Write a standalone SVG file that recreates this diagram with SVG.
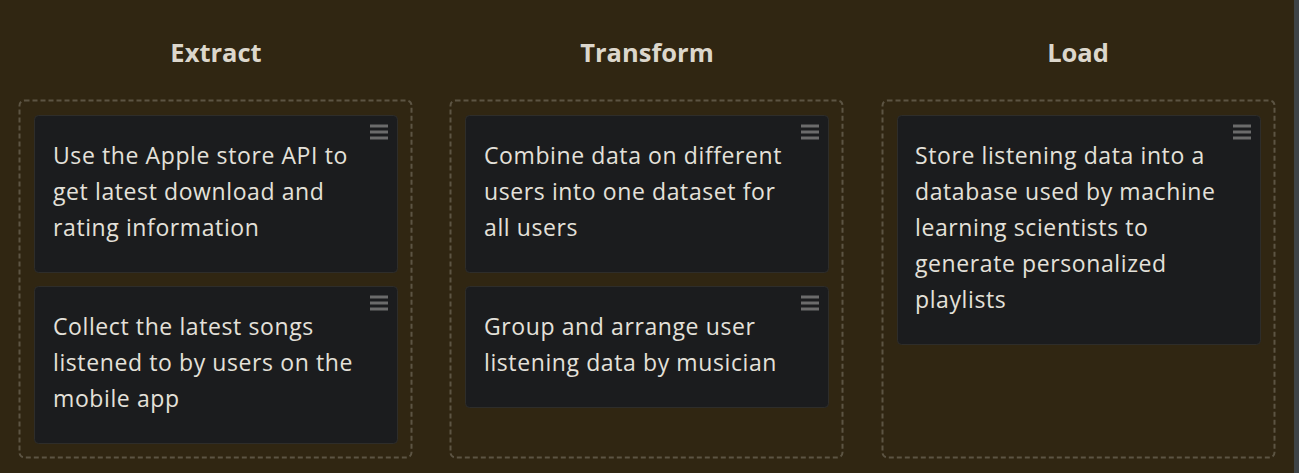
<svg xmlns="http://www.w3.org/2000/svg" width="1299" height="473" viewBox="0 0 1299 473">
<style>
.bg{fill:#302612}
.lane{fill:none;stroke:#5c5443;stroke-width:2;stroke-dasharray:5 3}
.card{fill:#1b1c1e;stroke:#2e2d2a;stroke-width:1}
.hdr{font-family:"Open Sans","Noto Sans",sans-serif;font-weight:700;font-size:25.5px;fill:#dcd7cc;text-anchor:middle}
.txt{font-family:"Open Sans","Noto Sans",sans-serif;font-size:23px;letter-spacing:0.6px;fill:#e4e1da}
.ham{stroke:#6b6b6b;stroke-width:3}
</style>
<defs>
<g id="hamb"><line class="ham" x1="0" y1="0" x2="18" y2="0"/><line class="ham" x1="0" y1="6" x2="18" y2="6"/><line class="ham" x1="0" y1="12" x2="18" y2="12"/></g>
</defs>
<rect class="bg" x="0" y="0" width="1299" height="473"/>
<rect x="1294" y="0" width="5" height="473" fill="#3e4346"/>
<g id="col-extract">
<text class="hdr" x="216" y="62">Extract</text>
<rect class="lane" x="19.5" y="100.5" width="392" height="357" rx="5"/>
</g>
<g id="col-transform">
<text class="hdr" x="647" y="62">Transform</text>
<rect class="lane" x="450.5" y="100.5" width="392" height="357" rx="5"/>
</g>
<g id="col-load">
<text class="hdr" x="1078" y="62">Load</text>
<rect class="lane" x="882.5" y="100.5" width="392" height="357" rx="5"/>
</g>
<g id="card-e1">
<rect class="card" x="34.5" y="115.5" width="363" height="157" rx="4"/>
<use href="#hamb" x="370" y="126"/>
<text class="txt" x="53"><tspan x="53" y="164">Use the Apple store API to</tspan><tspan x="53" y="200">get latest download and</tspan><tspan x="53" y="236">rating information</tspan></text>
</g>
<g id="card-e2">
<rect class="card" x="34.5" y="286.5" width="363" height="157" rx="4"/>
<use href="#hamb" x="370" y="297"/>
<text class="txt"><tspan x="53" y="335">Collect the latest songs</tspan><tspan x="53" y="371">listened to by users on the</tspan><tspan x="53" y="407">mobile app</tspan></text>
</g>
<g id="card-t1">
<rect class="card" x="465.5" y="115.5" width="363" height="157" rx="4"/>
<use href="#hamb" x="801" y="126"/>
<text class="txt"><tspan x="484" y="164">Combine data on different</tspan><tspan x="484" y="200">users into one dataset for</tspan><tspan x="484" y="236">all users</tspan></text>
</g>
<g id="card-t2">
<rect class="card" x="465.5" y="286.5" width="363" height="121" rx="4"/>
<use href="#hamb" x="801" y="297"/>
<text class="txt"><tspan x="484" y="335">Group and arrange user</tspan><tspan x="484" y="371">listening data by musician</tspan></text>
</g>
<g id="card-l1">
<rect class="card" x="897.5" y="115.5" width="363" height="229" rx="4"/>
<use href="#hamb" x="1233" y="126"/>
<text class="txt"><tspan x="915" y="164">Store listening data into a</tspan><tspan x="915" y="200">database used by machine</tspan><tspan x="915" y="236">learning scientists to</tspan><tspan x="915" y="272">generate personalized</tspan><tspan x="915" y="308">playlists</tspan></text>
</g>
<g id="connectors"/>
</svg>
